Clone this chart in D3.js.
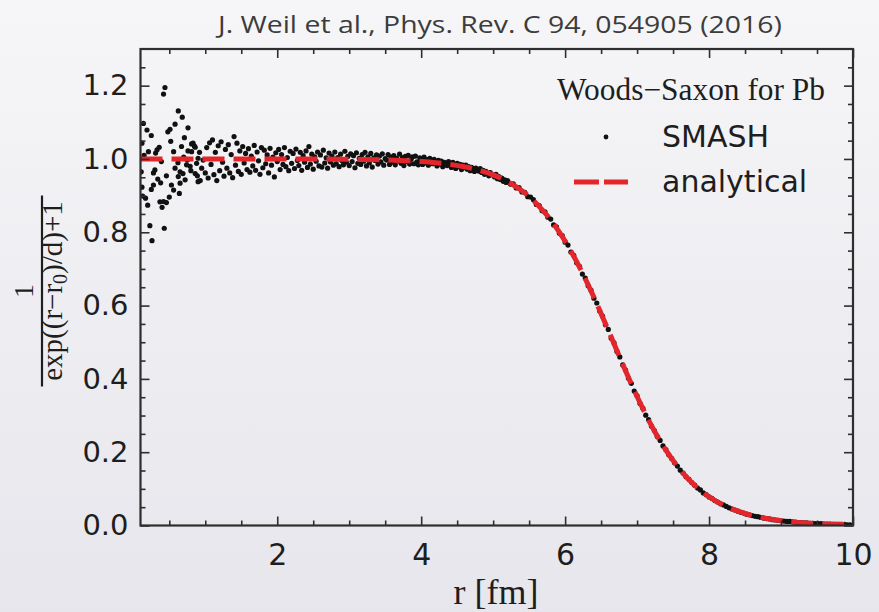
<!DOCTYPE html>
<html>
<head>
<meta charset="utf-8">
<script src="https://cdn.jsdelivr.net/npm/d3@7"></script>
<style>
  html, body { margin: 0; padding: 0; }
  svg { display: block; }
</style>
</head>
<body>
<svg width="879" height="612"></svg>
<script>
// ---- data
const title = 'J. Weil et al., Phys. Rev. C 94, 054905 (2016)';
const xMajor = [2, 4, 6, 8, 10];
const xMinor = [0.5, 1, 1.5, 2.5, 3, 3.5, 4.5, 5, 5.5, 6.5, 7, 7.5, 8.5, 9, 9.5];
const yMajor = [0, 0.2, 0.4, 0.6, 0.8, 1.0, 1.2];
const yMinor = [0.05, 0.1, 0.15, 0.25, 0.3, 0.35, 0.45, 0.5, 0.55, 0.65, 0.7, 0.75,
                0.85, 0.9, 0.95, 1.05, 1.1, 1.15, 1.25];

// SMASH points near the centre (r < 1 fm), [r, value]
const smashInner = [
  [0.14,1.097],[0.19,1.079],[0.25,1.064],[0.44,1.195],[0.42,1.177],[0.625,1.131],[0.68,1.114],
  [0.76,1.085],[0.51,1.081],[0.48,1.074],[0.58,1.095],[0.71,1.058],[0.12,1.043],[0.21,1.020],
  [0.31,1.016],[0.36,1.032],[0.33,1.025],[0.56,1.020],[0.67,1.034],[0.76,1.022],[0.81,1.041],
  [0.85,1.035],[0.39,0.993],[0.30,0.970],[0.28,0.962],[0.38,0.935],[0.46,0.954],[0.58,0.975],
  [0.625,0.952],[0.65,0.965],[0.72,0.943],[0.74,0.984],[0.79,0.980],[0.80,0.968],[0.89,0.954],
  [0.93,0.941],[0.53,0.929],[0.56,0.915],[0.65,0.934],[0.64,0.906],[0.28,0.929],[0.25,0.917],
  [0.12,0.923],[0.13,0.899],[0.17,0.893],[0.20,0.874],[0.37,0.883],[0.42,0.884],[0.40,0.868],
  [0.46,0.881],[0.50,0.896],[0.23,0.818],[0.43,0.811],[0.26,0.777],[0.83,1.043],[0.86,1.032],
  [0.81,1.020],[0.90,1.002],[0.97,0.997],[0.88,0.988],[0.95,0.975],[0.90,0.938],[0.86,0.960],
  [0.70,1.005],[0.62,0.990],[0.15,1.010],[0.11,0.965],[0.52,1.048],[0.34,0.945],[0.92,1.018],
  [0.69,0.960],[0.75,0.997]
];

// SMASH bins r = 1.00 ... 5.18 (every 0.02 fm)
const smashMidStart = 1.0, smashMidStep = 0.02;
const smashMid = [
  0.962, 1.031, 0.948, 1.044, 0.985, 1.052, 0.957, 1.018, 0.941, 1.036,
  0.968, 1.047, 0.991, 0.953, 1.026, 0.975, 1.039, 0.962, 1.012, 0.949,
  1.061, 0.983, 1.043, 0.966, 1.022, 0.958, 1.034, 0.989, 1.015, 0.971,
  1.028, 0.964, 1.008, 0.981, 1.037, 0.969, 1.019, 0.995, 0.958, 1.031,
  0.976, 1.024, 0.987, 1.011, 0.962, 1.029, 0.983, 1.005, 0.951, 1.017,
  0.993, 1.026, 0.971, 1.012, 0.985, 1.031, 0.979, 1.004, 0.968, 1.021,
  0.988, 1.015, 0.974, 1.027, 0.996, 0.982, 1.018, 0.969, 1.009, 0.991,
  1.022, 0.977, 1.034, 0.986, 1.013, 0.972, 1.006, 0.994, 1.019, 0.981,
  1.011, 0.978, 1.024, 0.989, 1.003, 0.975, 1.016, 0.992, 1.008, 0.983,
  1.019, 0.987, 1.004, 0.979, 1.013, 0.995, 0.984, 1.021, 0.991, 1.007,
  0.982, 1.014, 0.993, 1.009, 0.976, 1.017, 0.988, 1.002, 0.985, 1.012,
  0.994, 1.018, 0.981, 1.006, 0.989, 1.015, 0.978, 1.003, 0.996, 1.011,
  0.986, 1.008, 0.992, 1.014, 0.983, 1.001, 0.997, 1.012, 0.985, 1.005,
  0.991, 1.009, 0.984, 1.002, 0.995, 1.013, 0.988, 1.004, 0.982, 1.007,
  0.993, 1.010, 0.986, 0.999, 1.006, 0.987, 1.008, 0.992, 0.984, 1.003,
  0.994, 0.985, 1.005, 0.989, 0.998, 0.983, 1.002, 0.991, 0.987, 0.999,
  0.992, 0.981, 0.996, 0.986, 0.994, 0.979, 0.991, 0.988, 0.982, 0.993,
  0.985, 0.977, 0.991, 0.982, 0.974, 0.988, 0.979, 0.985, 0.971, 0.983,
  0.976, 0.983, 0.972, 0.979, 0.968, 0.977, 0.971, 0.966, 0.975, 0.969,
  0.967, 0.974, 0.963, 0.969, 0.958, 0.966, 0.960, 0.954, 0.963, 0.957,
  0.956, 0.951, 0.958, 0.946, 0.952, 0.944, 0.948, 0.939, 0.943, 0.936
];

// SMASH bins r = 5.20 ... 9.96 (every 0.04 fm)
const smashOuterStart = 5.2, smashOuterStep = 0.04;
const smashOuter = [
  0.941, 0.931, 0.932, 0.921, 0.922, 0.910, 0.909, 0.897, 0.896, 0.889,
  0.876, 0.873, 0.859, 0.856, 0.841, 0.836, 0.820, 0.815, 0.797, 0.791,
  0.773, 0.765, 0.746, 0.737, 0.717, 0.707, 0.686, 0.675, 0.654, 0.642,
  0.620, 0.607, 0.585, 0.571, 0.548, 0.535, 0.511, 0.498, 0.475, 0.460,
  0.438, 0.424, 0.402, 0.388, 0.367, 0.354, 0.333, 0.320, 0.301, 0.289,
  0.271, 0.259, 0.243, 0.232, 0.217, 0.207, 0.193, 0.183, 0.171, 0.162,
  0.151, 0.143, 0.133, 0.126, 0.117, 0.110, 0.102, 0.097, 0.089, 0.084,
  0.078, 0.074, 0.068, 0.064, 0.059, 0.056, 0.052, 0.048, 0.045, 0.042,
  0.039, 0.036, 0.034, 0.031, 0.029, 0.027, 0.025, 0.024, 0.022, 0.020,
  0.019, 0.018, 0.016, 0.015, 0.014, 0.013, 0.012, 0.011, 0.011, 0.010,
  0.009, 0.008, 0.008, 0.007, 0.007, 0.006, 0.006, 0.005, 0.005, 0.005,
  0.004, 0.004, 0.004, 0.003, 0.003, 0.003, 0.003, 0.003, 0.002, 0.002
];

// analytical Woods-Saxon curve, sampled
const analyticR = [0.1, 1.0, 2.0, 3.0, 3.5, 4.0, 4.2, 4.4, 4.6, 4.8, 5.0, 5.2, 5.4, 5.6, 5.8,
  6.0, 6.2, 6.4, 6.6, 6.8, 7.0, 7.2, 7.4, 7.6, 7.8, 8.0, 8.2, 8.4, 8.6, 8.8, 9.0, 9.2, 9.4,
  9.6, 9.8, 10.0];
const analyticV = [1.0, 1.0, 0.9999, 0.9989, 0.9972, 0.9929, 0.9898, 0.9853, 0.9788, 0.9696,
  0.9566, 0.9383, 0.9131, 0.8788, 0.8336, 0.7757, 0.7048, 0.6225, 0.5325, 0.4401, 0.3518,
  0.2726, 0.2055, 0.1516, 0.1098, 0.0785, 0.0556, 0.0390, 0.0273, 0.0190, 0.0132, 0.0092,
  0.0064, 0.0044, 0.0031, 0.0021];

// ---- build point list
const smash = smashInner.map(d => ({ r: d[0], v: d[1] }))
  .concat(smashMid.map((v, i) => ({ r: smashMidStart + i * smashMidStep, v })))
  .concat(smashOuter.map((v, i) => ({ r: smashOuterStart + i * smashOuterStep, v })));
const analytic = analyticR.map((r, i) => ({ r, v: analyticV[i] }));

const svg = d3.select('svg');
const W = 879, H = 612;
const plot = { left: 140.5, right: 853, top: 49, bottom: 525.5 };
const ink = '#2e2e2e';
const red = '#e3262c';

// background gradient
const defs = svg.append('defs');
const grad = defs.append('linearGradient').attr('id', 'bg')
  .attr('x1', 0).attr('y1', 0).attr('x2', 0).attr('y2', 1);
grad.append('stop').attr('offset', '0%').attr('stop-color', '#f6f6f8');
grad.append('stop').attr('offset', '100%').attr('stop-color', '#e6e6ec');
svg.append('rect').attr('width', W).attr('height', H).attr('fill', 'url(#bg)');

defs.append('clipPath').attr('id', 'clip').append('rect')
  .attr('x', plot.left).attr('y', plot.top)
  .attr('width', plot.right - plot.left).attr('height', plot.bottom - plot.top);

const x = d3.scaleLinear().domain([0.1, 10]).range([plot.left, plot.right]);
const y = d3.scaleLinear().domain([0, 1.3]).range([plot.bottom, plot.top]);

// ---- data layer
const layer = svg.append('g').attr('clip-path', 'url(#clip)');

layer.selectAll('circle')
  .data(smash)
  .join('circle')
  .attr('cx', d => x(d.r))
  .attr('cy', d => y(d.v))
  .attr('r', 2.6)
  .attr('fill', '#111');

const line = d3.line().x(d => x(d.r)).y(d => y(d.v)).curve(d3.curveMonotoneX);
layer.append('path')
  .datum(analytic)
  .attr('d', line)
  .attr('fill', 'none')
  .attr('stroke', red)
  .attr('stroke-width', 5)
  .attr('stroke-dasharray', '22,9');

// ---- axes (ticks pointing inward on all four sides)
function styleAxis(g) {
  g.select('.domain').remove();
  g.selectAll('line').attr('stroke', ink).attr('stroke-width', 1.6);
}

svg.append('g').attr('transform', `translate(0,${plot.bottom})`)
  .call(d3.axisBottom(x).tickValues(xMajor).tickSize(-9).tickPadding(18).tickFormat(d3.format('d')))
  .call(styleAxis)
  .call(g => g.selectAll('text')
    .attr('font-family', '"DejaVu Sans", sans-serif').attr('font-size', 30).attr('fill', '#1e1e1e'));
svg.append('g').attr('transform', `translate(0,${plot.bottom})`)
  .call(d3.axisBottom(x).tickValues(xMinor).tickSize(-5).tickFormat(''))
  .call(styleAxis);
svg.append('g').attr('transform', `translate(0,${plot.top})`)
  .call(d3.axisTop(x).tickValues(xMajor).tickSize(-9).tickFormat(''))
  .call(styleAxis);
svg.append('g').attr('transform', `translate(0,${plot.top})`)
  .call(d3.axisTop(x).tickValues(xMinor).tickSize(-5).tickFormat(''))
  .call(styleAxis);

svg.append('g').attr('transform', `translate(${plot.left},0)`)
  .call(d3.axisLeft(y).tickValues(yMajor).tickSize(-9).tickPadding(12).tickFormat(d3.format('.1f')))
  .call(styleAxis)
  .call(g => g.selectAll('text')
    .attr('font-family', '"DejaVu Sans", sans-serif').attr('font-size', 29).attr('fill', '#1e1e1e'));
svg.append('g').attr('transform', `translate(${plot.left},0)`)
  .call(d3.axisLeft(y).tickValues(yMinor).tickSize(-5).tickFormat(''))
  .call(styleAxis);
svg.append('g').attr('transform', `translate(${plot.right},0)`)
  .call(d3.axisRight(y).tickValues(yMajor).tickSize(-9).tickFormat(''))
  .call(styleAxis);
svg.append('g').attr('transform', `translate(${plot.right},0)`)
  .call(d3.axisRight(y).tickValues(yMinor).tickSize(-5).tickFormat(''))
  .call(styleAxis);

// frame
svg.append('rect')
  .attr('x', plot.left).attr('y', plot.top)
  .attr('width', plot.right - plot.left).attr('height', plot.bottom - plot.top)
  .attr('fill', 'none').attr('stroke', ink).attr('stroke-width', 2.2);

// ---- titles
svg.append('text')
  .attr('x', 500).attr('y', 33)
  .attr('text-anchor', 'middle')
  .attr('font-family', '"Open Sans", sans-serif').attr('font-size', 23)
  .attr('textLength', 564).attr('lengthAdjust', 'spacingAndGlyphs')
  .attr('fill', '#3c3c3c')
  .text(title);

svg.append('text')
  .attr('x', 496).attr('y', 604)
  .attr('text-anchor', 'middle')
  .attr('font-family', '"Liberation Serif", serif').attr('font-size', 36)
  .attr('fill', '#1e1e1e')
  .text('r [fm]');

// y label: fraction 1 / (exp((r-r0)/d)+1)
const yl = svg.append('g').attr('transform', 'translate(42,291) rotate(-90)')
  .attr('font-family', '"Liberation Serif", serif').attr('fill', '#1e1e1e');
yl.append('line').attr('x1', -95.5).attr('x2', 95.5).attr('y1', 0).attr('y2', 0)
  .attr('stroke', '#1e1e1e').attr('stroke-width', 2.2);
yl.append('text').attr('x', 0).attr('y', -9).attr('text-anchor', 'middle')
  .attr('font-size', 28).text('1');
const den = yl.append('text').attr('x', 0).attr('y', 20).attr('text-anchor', 'middle')
  .attr('font-size', 29);
den.append('tspan').text('exp((r\u2212r');
den.append('tspan').attr('font-size', 20).attr('dy', 5).text('0');
den.append('tspan').attr('dy', -5).text(')/d)+1');

// ---- legend
svg.append('text')
  .attr('x', 825).attr('y', 100)
  .attr('text-anchor', 'end')
  .attr('font-family', '"Liberation Serif", serif').attr('font-size', 31)
  .attr('textLength', 268).attr('lengthAdjust', 'spacingAndGlyphs')
  .attr('fill', '#1e1e1e')
  .text('Woods\u2212Saxon for Pb');

svg.append('circle').attr('cx', 606).attr('cy', 137).attr('r', 2.4).attr('fill', '#111');
svg.append('line').attr('x1', 574).attr('x2', 628).attr('y1', 182).attr('y2', 182)
  .attr('stroke', red).attr('stroke-width', 5).attr('stroke-dasharray', '25,5');

svg.append('g')
  .attr('font-family', '"DejaVu Sans", sans-serif').attr('font-size', 30).attr('fill', '#1e1e1e')
  .selectAll('text')
  .data([['SMASH', 147], ['analytical', 192]])
  .join('text')
  .attr('x', 662).attr('y', d => d[1])
  .text(d => d[0]);
</script>
</body>
</html>
